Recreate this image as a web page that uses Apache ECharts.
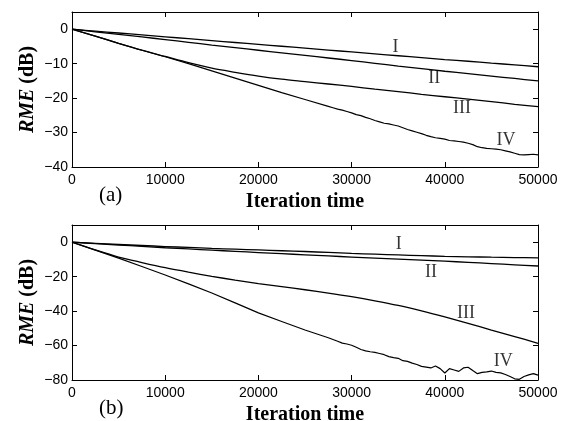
<!DOCTYPE html>
<html>
<head>
<meta charset="utf-8">
<script src="https://cdn.jsdelivr.net/npm/echarts@6/dist/echarts.min.js"></script>
<style>
html,body{margin:0;padding:0;background:#fff;}
#chart{width:567px;height:421px;}
</style>
</head>
<body>
<div id="chart"></div>
<script>
// ---- data ----
const xTickStep = 10000;
const yTickStepA = 10;
const yTickStepB = 20;

const xGrid = [0,2500,5000,7500,10000,12500,15000,17500,20000,22500,25000,27500,30000,32500,35000,37500,40000,42500,45000,47500,50000];

// panel (a)
const aI   = [0,-0.55,-1.1,-1.65,-2.2,-2.75,-3.3,-3.85,-4.4,-4.95,-5.5,-6.05,-6.6,-7.15,-7.7,-8.25,-8.8,-9.3,-9.85,-10.35,-10.9];
const aII  = [0,-0.75,-1.5,-2.25,-3.0,-3.8,-4.6,-5.35,-6.1,-6.85,-7.6,-8.35,-9.1,-9.9,-10.7,-11.45,-12.2,-12.9,-13.6,-14.3,-15.0];
const aIII = [0,-2.0,-4.1,-6.1,-7.9,-9.7,-11.3,-12.5,-13.6,-14.5,-15.2,-15.9,-16.6,-17.4,-18.1,-18.9,-19.6,-20.3,-21.0,-21.8,-22.5];

const xIV = [0,2500,5000,7500,10000,12500,15000,17500,20000,22500,25000,27500,
  28000,28500,29000,29500,30000,30500,31000,31500,32000,32500,33000,33500,34000,34500,
  35000,35500,36000,36500,37000,37500,38000,38500,39000,39500,40000,40500,41000,41500,
  42000,42500,43000,43500,44000,44500,45000,45500,46000,46500,47000,47500,48000,48500,
  49000,49500,50000];
const aIV = [0,-2.0,-4.1,-6.1,-8.0,-10.0,-12.1,-14.2,-16.3,-18.4,-20.4,-22.4,
  -22.8,-23.2,-23.5,-23.9,-24.3,-24.8,-25.1,-25.6,-26.0,-26.5,-26.9,-27.3,-27.5,-27.8,
  -28.1,-28.6,-29.1,-29.5,-29.9,-30.3,-30.8,-31.2,-31.5,-31.7,-31.9,-32.3,-32.4,-32.6,
  -32.8,-33.1,-33.5,-34.1,-34.4,-34.6,-34.7,-34.8,-35.0,-35.3,-35.6,-36.0,-36.4,-36.5,
  -36.4,-36.3,-36.5];

// panel (b)
const bI   = [0,-0.65,-1.3,-1.9,-2.5,-3.05,-3.6,-4.05,-4.5,-4.95,-5.4,-5.95,-6.5,-6.95,-7.4,-7.8,-8.2,-8.45,-8.7,-8.9,-9.1];
const bII  = [0,-0.8,-1.6,-2.4,-3.2,-3.9,-4.6,-5.3,-6.0,-6.65,-7.3,-7.95,-8.6,-9.2,-9.8,-10.4,-11.0,-11.7,-12.4,-13.1,-13.8];
const bIII = [0,-4.5,-8.6,-11.8,-14.8,-17.4,-19.8,-22.0,-24.0,-25.8,-27.6,-29.5,-31.6,-34.0,-36.7,-39.9,-43.4,-47.1,-51.0,-54.8,-58.7];
const bIV = [0,-4.6,-9.2,-14.1,-19.0,-24.2,-29.5,-35.2,-41.0,-46.0,-51.0,-55.5,
  -56.5,-57.5,-58.6,-59.1,-59.8,-61.0,-62.3,-63.1,-63.6,-64.0,-64.6,-65.3,-66.4,-67.0,
  -67.4,-68.8,-69.2,-70.2,-71.0,-72.1,-72.5,-73.0,-71.9,-73.4,-75.9,-73.4,-74.2,-75.0,
  -73.0,-72.6,-74.5,-76.3,-75.6,-75.3,-74.8,-75.6,-75.9,-76.8,-78.0,-79.3,-79.6,-78.0,
  -77.0,-76.3,-77.2];

// curve labels: [x, y, text]
const labelsA = [[34700,-5.1,'I'],[38870,-14.3,'II'],[41840,-23.0,'III'],[46560,-32.2,'IV']];
const labelsB = [[35050,-1.4,'I'],[38520,-17.3,'II'],[42270,-41.0,'III'],[46270,-69.3,'IV']];

// ---- chart ----
const pair = (xs, ys) => xs.map((x, i) => [x, ys[i]]);
const minus = v => v < 0 ? '\u2212' + Math.abs(v) : String(v);
const BLACK = '#000';
const tickFont = {color: BLACK, fontFamily: 'Liberation Sans, Arial, sans-serif', fontSize: 14};
const titleFont = {color: BLACK, fontFamily: 'Liberation Serif, Times New Roman, serif', fontSize: 20, fontWeight: 'bold'};
const tickStyle = {show: true, inside: true, length: 5, lineStyle: {color: BLACK, width: 1}};
const lineAx = {show: true, onZero: false, lineStyle: {color: BLACK, width: 1}};

function xAxes(gi) {
  return [
    {gridIndex: gi, type: 'value', min: 0, max: 50000, interval: xTickStep, position: 'bottom',
     axisLine: lineAx, axisTick: tickStyle,
     axisLabel: {show: true, margin: 6, ...tickFont, formatter: v => String(v)},
     splitLine: {show: false},
     name: 'Iteration time', nameLocation: 'middle', nameGap: 25, nameMoveOverlap: false, nameTextStyle: titleFont},
    {gridIndex: gi, type: 'value', min: 0, max: 50000, interval: xTickStep, position: 'top',
     axisLine: lineAx, axisTick: tickStyle,
     axisLabel: {show: false}, splitLine: {show: false}}
  ];
}
function yAxes(gi, min, max, step) {
  return [
    {gridIndex: gi, type: 'value', min: min, max: max, interval: step, position: 'left',
     axisLine: lineAx, axisTick: tickStyle,
     axisLabel: {show: true, margin: 4, ...tickFont, formatter: minus, showMaxLabel: false},
     splitLine: {show: false},
     name: '{i|RME} (dB)', nameLocation: 'middle', nameGap: 34, nameMoveOverlap: false,
     nameTextStyle: {...titleFont, rich: {i: {...titleFont, fontStyle: 'italic'}}}},
    {gridIndex: gi, type: 'value', min: min, max: max, interval: step, position: 'right',
     axisLine: lineAx, axisTick: tickStyle,
     axisLabel: {show: false}, splitLine: {show: false}}
  ];
}
function line(xi, yi, data, w, sm) {
  return {type: 'line', xAxisIndex: xi, yAxisIndex: yi, data: data, showSymbol: false, symbol: 'none',
          smooth: sm, lineStyle: {color: BLACK, width: w}, silent: true, animation: false, z: 3};
}
function labels(xi, yi, arr) {
  return {type: 'scatter', xAxisIndex: xi, yAxisIndex: yi, symbolSize: 0, silent: true, animation: false,
          data: arr.map(a => ({value: [a[0], a[1]], name: a[2]})),
          label: {show: true, position: 'inside', formatter: p => p.name, color: BLACK,
                  fontFamily: 'Liberation Serif, Times New Roman, serif', fontSize: 18}};
}

const option = {
  backgroundColor: '#fff',
  animation: false,
  grid: [
    {left: 72, top: 12, width: 466, height: 155, containLabel: false, outerBoundsMode: 'none'},
    {left: 72, top: 225, width: 466, height: 155, containLabel: false, outerBoundsMode: 'none'}
  ],
  xAxis: [...xAxes(0), ...xAxes(1)],
  yAxis: [...yAxes(0, -40, 5, yTickStepA), ...yAxes(1, -80, 10, yTickStepB)],
  series: [
    line(0, 0, pair(xGrid, aI), 1.3, 0.3),
    line(0, 0, pair(xGrid, aII), 1.3, 0.3),
    line(0, 0, pair(xGrid, aIII), 1.3, 0.3),
    line(0, 0, pair(xIV, aIV), 1.2, false),
    labels(0, 0, labelsA),
    line(2, 2, pair(xGrid, bI), 1.3, 0.3),
    line(2, 2, pair(xGrid, bII), 1.3, 0.3),
    line(2, 2, pair(xGrid, bIII), 1.3, 0.3),
    line(2, 2, pair(xIV, bIV), 1.2, false),
    labels(2, 2, labelsB)
  ],
  graphic: [
    {type: 'text', left: 99, top: 185, style: {text: '(a)', fill: BLACK, font: '21px "Liberation Serif", serif'}},
    {type: 'text', left: 99, top: 398, style: {text: '(b)', fill: BLACK, font: '21px "Liberation Serif", serif'}}
  ]
};
const chart = echarts.init(document.getElementById('chart'), null, {renderer: 'canvas'});
chart.setOption(option);
</script>
</body>
</html>
